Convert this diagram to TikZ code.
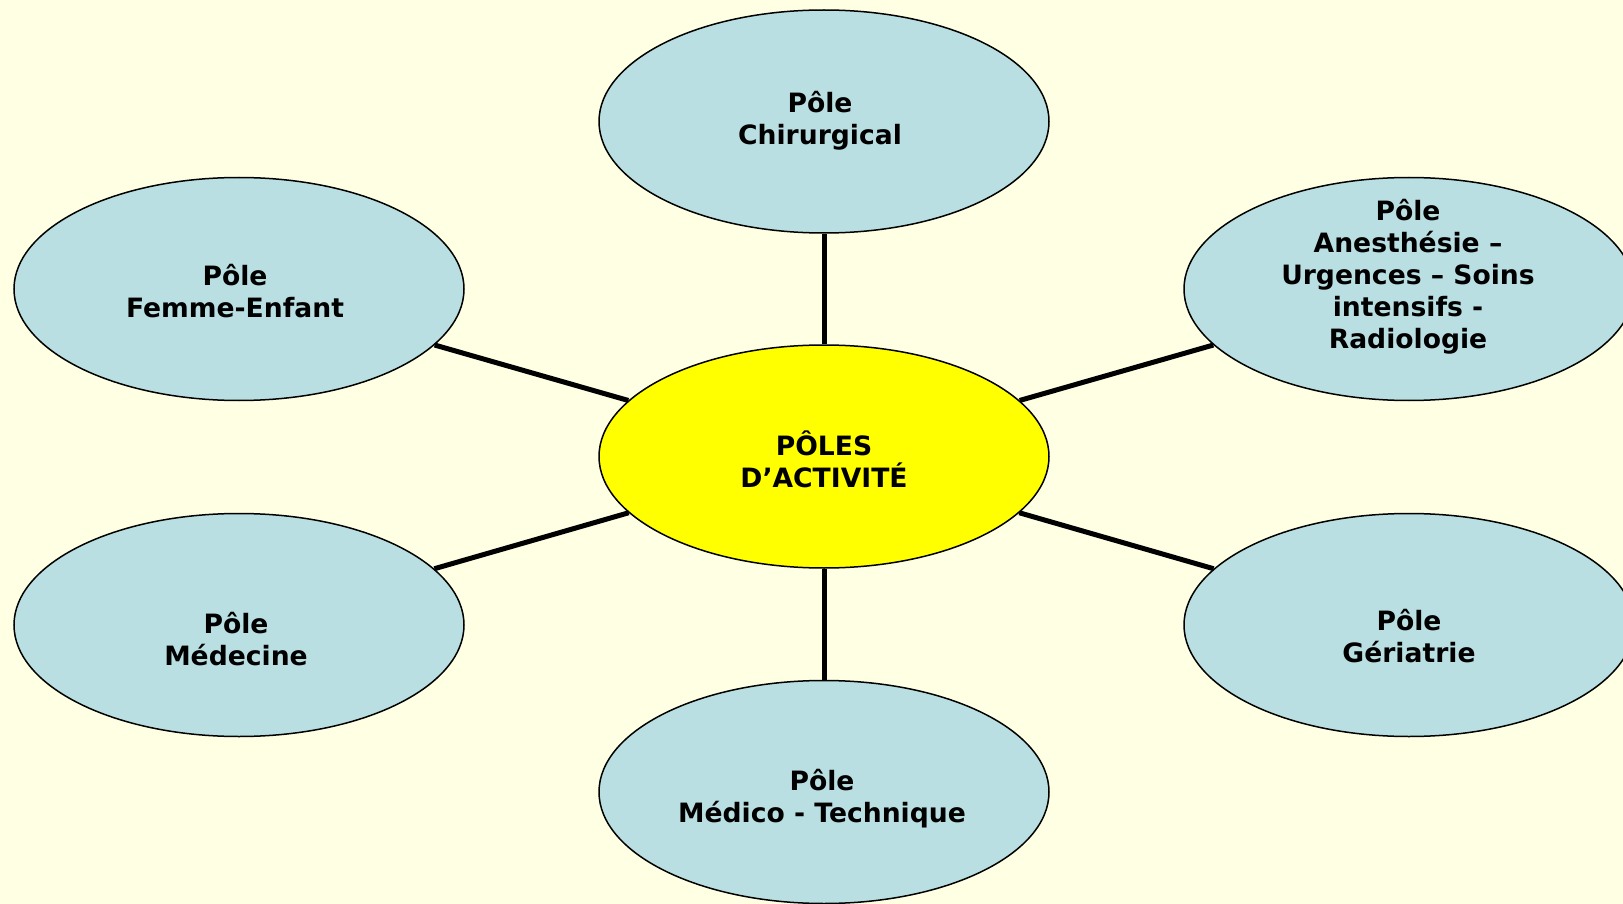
\documentclass[tikz,border=0pt]{standalone}
\usepackage{fontspec}
\setmainfont{DejaVu Sans}
\usetikzlibrary{shapes.geometric}
\definecolor{bg}{HTML}{FFFFE3}
\definecolor{pole}{HTML}{B9DFE3}
\definecolor{core}{HTML}{FFFF00}
\tikzset{
  oval/.style={ellipse, draw=black, line width=1.5pt, fill=pole,
    minimum width=450pt, minimum height=223pt, inner sep=0pt},
  coreoval/.style={oval, fill=core},
  lbl/.style={align=center, inner sep=0pt,
    font=\fontsize{26.6}{32}\selectfont\bfseries},
  link/.style={line width=5pt, black}
}
\begin{document}
\begin{tikzpicture}[x=1pt,y=-1pt]
\fill[bg] (0,0) rectangle (1623,904);
\useasboundingbox (0,0) rectangle (1623,904);
\node[coreoval] (c) at (824,456.5) {};
\node[oval] (t) at (824,121.5) {};
\node[oval] (lt) at (239,289) {};
\node[oval] (rt) at (1409,289) {};
\node[oval] (lb) at (239,625) {};
\node[oval] (rb) at (1409,625) {};
\node[oval] (b) at (824,792) {};
\draw[link] (c) -- (t);
\draw[link] (c) -- (lt);
\draw[link] (c) -- (rt);
\draw[link] (c) -- (lb);
\draw[link] (c) -- (rb);
\draw[link] (c) -- (b);
\node[lbl] (tc) at (824,459.5) {PÔLES\\D’ACTIVITÉ};
\node[lbl] (tt) at (820,120.5) {Pôle\\Chirurgical};
\node[lbl] (trt) at (1408,276.8) {Pôle\\Anesthésie –\\Urgences – Soins\\intensifs -\\Radiologie};
\node[lbl] (tlt) at (235,291.5) {Pôle\\Femme-Enfant};
\node[lbl] (tlb) at (236,639) {Pôle\\Médecine};
\node[lbl] (trb) at (1409,636) {Pôle\\Gériatrie};
\node[lbl] (tb) at (822,798.6) {Pôle\\Médico - Technique};
\end{tikzpicture}
\end{document}
